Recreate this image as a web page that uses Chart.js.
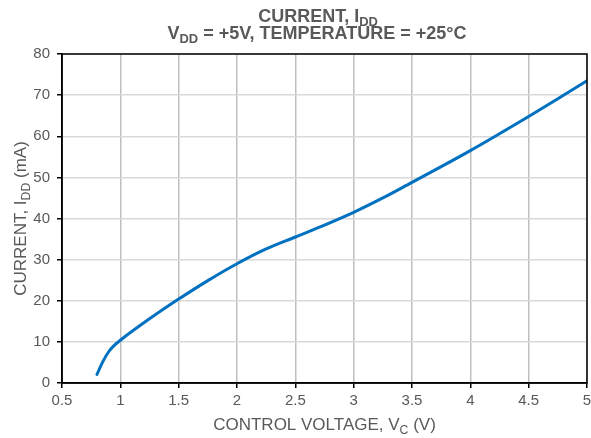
<!DOCTYPE html>
<html>
<head>
<meta charset="utf-8">
<script src="https://cdn.jsdelivr.net/npm/chart.js@4/dist/chart.umd.min.js"></script>
<style>
  html, body { margin: 0; padding: 0; background: #ffffff; }
  #wrap { width: 591px; height: 438px; position: relative; }
</style>
</head>
<body>
<div id="wrap"><canvas id="c" width="591" height="438"></canvas></div>
<script>
// Data
const controlVoltage = [0.80, 0.85, 0.90, 0.95, 1.00, 1.25, 1.50, 1.75, 2.00, 2.25, 2.50, 2.75, 3.00, 3.25, 3.50, 3.75, 4.00, 4.25, 4.50, 4.75, 5.00];
const currentIdd     = [2.1,  5.2,  7.6,  9.2,  10.4, 15.6, 20.4, 24.9, 29.0, 32.6, 35.5, 38.4, 41.5, 45.0, 48.8, 52.6, 56.5, 60.6, 64.8, 69.1, 73.5];
const xTickMin = 0.5, xTickMax = 5, xTickStep = 0.5;
const yTickMin = 0, yTickMax = 80, yTickStep = 10;

const titleLine1 = [{t: 'CURRENT, I'}, {t: 'DD', sub: true}];
const titleLine2 = [{t: 'V'}, {t: 'DD', sub: true}, {t: ' = +5V, TEMPERATURE = +25°C'}];
const xTitle = [{t: 'CONTROL VOLTAGE, V'}, {t: 'C', sub: true}, {t: ' (V)'}];
const yTitle = [{t: 'CURRENT, I'}, {t: 'DD', sub: true}, {t: ' (mA)'}];

const FONT = '"Liberation Sans", Arial, sans-serif';
const TEXT = '#595959';

function richWidth(ctx, segs, size, weight) {
  let w = 0;
  for (const s of segs) {
    const sz = s.sub ? size * 0.72 : size;
    ctx.font = weight + ' ' + sz + 'px ' + FONT;
    w += ctx.measureText(s.t).width;
  }
  return w;
}
function drawRich(ctx, segs, cx, baseline, size, weight) {
  const w = richWidth(ctx, segs, size, weight);
  let x = cx - w / 2;
  ctx.textAlign = 'left';
  ctx.textBaseline = 'alphabetic';
  ctx.fillStyle = TEXT;
  for (const s of segs) {
    const sz = s.sub ? size * 0.72 : size;
    ctx.font = weight + ' ' + sz + 'px ' + FONT;
    ctx.fillText(s.t, x, baseline + (s.sub ? size * 0.22 : 0));
    x += ctx.measureText(s.t).width;
  }
}

const textPlugin = {
  id: 'richText',
  afterDraw(chart) {
    const ctx = chart.ctx;
    const a = chart.chartArea;
    ctx.save();
    // border around plot
    ctx.strokeStyle = '#000000';
    ctx.lineWidth = 1.5;
    ctx.strokeRect(a.left, a.top, a.right - a.left, a.bottom - a.top);
    // titles
    drawRich(ctx, titleLine1, 318, 22, 18, 'bold');
    drawRich(ctx, titleLine2, 317, 39, 18, 'bold');
    // x axis title
    drawRich(ctx, xTitle, (a.left + a.right) / 2, 430, 17, 'normal');
    // y axis title
    ctx.translate(26, (a.top + a.bottom) / 2);
    ctx.rotate(-Math.PI / 2);
    drawRich(ctx, yTitle, 0, 0, 17, 'normal');
    ctx.restore();
  }
};

new Chart(document.getElementById('c'), {
  type: 'scatter',
  data: {
    datasets: [{
      data: controlVoltage.map((x, i) => ({x: x, y: currentIdd[i]})),
      showLine: true,
      borderColor: '#0070c0',
      backgroundColor: '#0070c0',
      borderWidth: 3,
      pointRadius: 0,
      cubicInterpolationMode: 'monotone',
      borderCapStyle: 'round'
    }]
  },
  options: {
    responsive: false,
    animation: false,
    devicePixelRatio: 1,
    layout: { padding: { top: 54, right: 4, left: 0, bottom: 0 } },
    plugins: { legend: { display: false }, tooltip: { enabled: false }, title: { display: false } },
    scales: {
      x: {
        type: 'linear',
        min: xTickMin, max: xTickMax,
        ticks: { stepSize: xTickStep, color: TEXT, font: { family: FONT, size: 15 }, padding: 4, maxRotation: 0,
                 callback: (v) => String(v) },
        grid: { color: '#bfbfbf', lineWidth: 1.5, tickColor: '#000000', tickLength: 5 },
        border: { color: '#000000', width: 1.5 },
        afterFit(s) { s.height = 55; s.paddingRight = 0; }
      },
      y: {
        type: 'linear',
        min: yTickMin, max: yTickMax,
        ticks: { stepSize: yTickStep, color: TEXT, font: { family: FONT, size: 15 }, padding: 7 },
        grid: { color: '#d9d9d9', lineWidth: 1.5, tickColor: '#000000', tickLength: 5 },
        border: { color: '#000000', width: 1.5 },
        afterFit(s) { s.width = 62; }
      }
    }
  },
  plugins: [textPlugin]
});
</script>
</body>
</html>
